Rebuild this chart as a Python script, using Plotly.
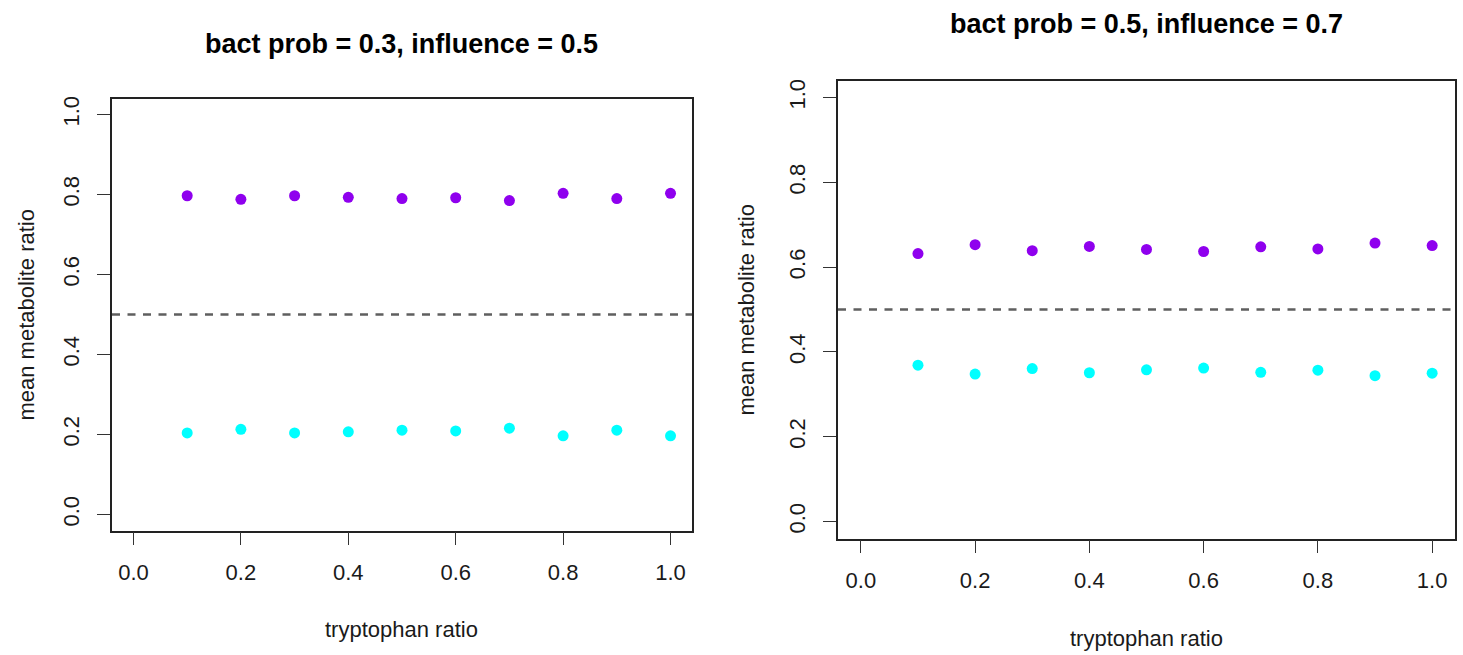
import plotly.graph_objects as go

# ---- data ----
tryptophan_ratio = [0.1, 0.2, 0.3, 0.4, 0.5, 0.6, 0.7, 0.8, 0.9, 1.0]

left_title = "bact prob = 0.3, influence = 0.5"
left_high = [0.797, 0.788, 0.797, 0.793, 0.790, 0.792, 0.785, 0.803, 0.790, 0.803]
left_low = [0.204, 0.213, 0.204, 0.207, 0.211, 0.209, 0.216, 0.197, 0.211, 0.197]

right_title = "bact prob = 0.5, influence = 0.7"
right_high = [0.632, 0.653, 0.639, 0.649, 0.642, 0.637, 0.648, 0.643, 0.657, 0.651]
right_low = [0.369, 0.348, 0.361, 0.351, 0.358, 0.362, 0.352, 0.357, 0.344, 0.350]

threshold = 0.5
tick_vals = [0.0, 0.2, 0.4, 0.6, 0.8, 1.0]
tick_text = ["0.0", "0.2", "0.4", "0.6", "0.8", "1.0"]
x_label = "tryptophan ratio"
y_label = "mean metabolite ratio"

# ---- style ----
W, H = 1463, 655
FONT = "Liberation Sans, Arial, Helvetica, sans-serif"
PURPLE = "#8F00EE"
CYAN = "#00FFFF"
TXT = "#1a1a1a"


def px_x(p):
    return p / W


def px_y(p):
    return 1 - p / H


# panel boxes in pixels: (left, right, top, bottom)
panels = [
    dict(box=(112, 692, 96, 530), title=left_title, high=left_high, low=left_low,
         title_y=41, ytitle_x=27, xtitle_y=629),
    dict(box=(838, 1455, 78, 538), title=right_title, high=right_high, low=right_low,
         title_y=21, ytitle_x=747, xtitle_y=638),
]

fig = go.Figure()
annotations = []
shapes = []
layout_axes = {}

for i, p in enumerate(panels):
    n = "" if i == 0 else str(i + 1)
    xa, ya = "x" + n, "y" + n
    l, r, t, b = p["box"]
    fig.add_trace(go.Scatter(x=tryptophan_ratio, y=p["high"], mode="markers",
                             marker=dict(color=PURPLE, size=11, line=dict(width=0)),
                             xaxis=xa, yaxis=ya, showlegend=False, hoverinfo="skip"))
    fig.add_trace(go.Scatter(x=tryptophan_ratio, y=p["low"], mode="markers",
                             marker=dict(color=CYAN, size=11, line=dict(width=0)),
                             xaxis=xa, yaxis=ya, showlegend=False, hoverinfo="skip"))
    shapes.append(dict(type="line", xref=xa + " domain", yref=ya,
                       x0=0, x1=1, y0=threshold, y1=threshold,
                       line=dict(color="#5f5f5f", width=2.5, dash="8px,7.5px"),
                       layer="below"))
    common = dict(showgrid=False, zeroline=False, showline=True, mirror=True,
                  linecolor="#222222", linewidth=1.6, ticks="outside", ticklen=13,
                  tickwidth=1.4, tickcolor="#333333", tickvals=tick_vals,
                  ticktext=tick_text, range=[-0.04, 1.04], fixedrange=True,
                  tickfont=dict(family=FONT, size=22, color=TXT))
    layout_axes["xaxis" + n] = dict(common, domain=[px_x(l), px_x(r)],
                                    anchor=ya, ticklabelstandoff=8)
    layout_axes["yaxis" + n] = dict(common, domain=[px_y(b), px_y(t)],
                                    anchor=xa, tickangle=-90, ticklabelstandoff=9)
    annotations.append(dict(text="<b>" + p["title"] + "</b>", xref="paper", yref="paper",
                            x=px_x((l + r) / 2), y=px_y(p["title_y"]),
                            xanchor="center", yanchor="middle", showarrow=False,
                            font=dict(family=FONT, size=27, color="#000000")))
    annotations.append(dict(text=x_label, xref="paper", yref="paper",
                            x=px_x((l + r) / 2), y=px_y(p["xtitle_y"]),
                            xanchor="center", yanchor="middle", showarrow=False,
                            font=dict(family=FONT, size=22, color=TXT)))
    annotations.append(dict(text=y_label, xref="paper", yref="paper",
                            x=px_x(p["ytitle_x"]), y=px_y((t + b) / 2),
                            xanchor="center", yanchor="middle", showarrow=False,
                            textangle=-90,
                            font=dict(family=FONT, size=22, color=TXT)))

fig.update_layout(
    width=W, height=H,
    margin=dict(l=0, r=0, t=0, b=0),
    paper_bgcolor="white", plot_bgcolor="white",
    annotations=annotations, shapes=shapes,
    **layout_axes,
)

fig.write_html("out.html", config={"displayModeBar": False},
               post_script="document.body.style.margin='0px';document.body.style.overflow='hidden';")
